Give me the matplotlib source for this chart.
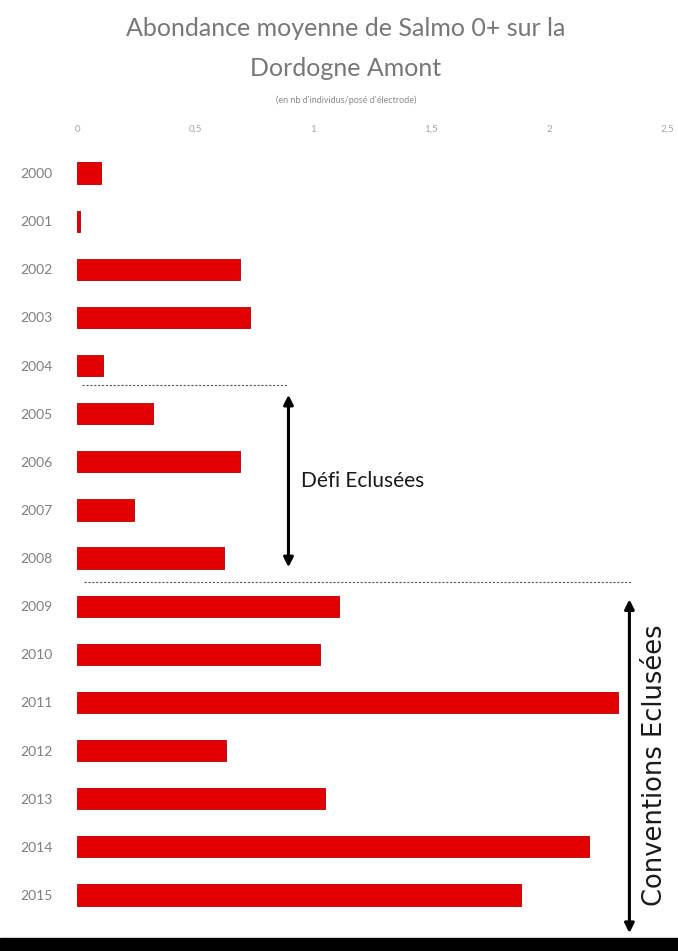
import matplotlib.pyplot as plt
from matplotlib.patches import Rectangle

# Mean abundance of Salmo 0+ per year (nb of individuals / electrode pass)
years = ['2000', '2001', '2002', '2003', '2004', '2005', '2006', '2007',
         '2008', '2009', '2010', '2011', '2012', '2013', '2014', '2015']
abundance = [0.10, 0.01, 0.69, 0.73, 0.11, 0.32, 0.69, 0.24,
             0.62, 1.11, 1.03, 2.29, 0.63, 1.05, 2.17, 1.88]
xticks = [0, 0.5, 1, 1.5, 2, 2.5]
xtick_labels = ['0', '0,5', '1', '1,5', '2', '2,5']

plt.rcParams['font.family'] = ['Lato', 'DejaVu Sans']

fig = plt.figure(figsize=(6.78, 9.51), dpi=100)
ax = fig.add_axes([0.114, 0.0326, 0.870, 0.8118])

pos = list(range(len(years)))
ax.barh(pos, abundance, height=0.44, color='#e20000', edgecolor='#b00000', linewidth=0.6)

ax.set_xlim(0, 2.5)
ax.set_ylim(len(years) - 0.48, -0.52)
ax.set_yticks(pos)
ax.set_yticklabels(years, fontsize=10, color='#808080')
ax.xaxis.tick_top()
ax.set_xticks(xticks)
ax.set_xticklabels(xtick_labels, fontsize=7, color='#a6a6a6')
ax.tick_params(length=0, axis='y', pad=18)
ax.tick_params(length=0, axis='x', pad=10)
for s in ax.spines.values():
    s.set_visible(False)

# period separators
ax.plot([0.02, 0.89], [4.4, 4.4], ls=(0, (2, 1.5)), color='#555555', lw=0.8)
ax.plot([0.03, 2.35], [8.5, 8.5], ls=(0, (2, 1.5)), color='#555555', lw=0.8)

# period arrows
ax.annotate('', xy=(0.895, 4.55), xytext=(0.895, 8.25),
            arrowprops=dict(arrowstyle='<|-|>', color='black', lw=2.2, mutation_scale=14))
ax.text(0.95, 6.4, 'Défi Eclusées', fontsize=15, color='#1a1a1a', va='center', ha='left')
ax.annotate('', xy=(2.34, 8.8), xytext=(2.34, 15.85), annotation_clip=False,
            arrowprops=dict(arrowstyle='<|-|>', color='black', lw=2.2, mutation_scale=14))
ax.text(2.45, 12.3, 'Conventions Eclusées', fontsize=18.5, color='#1a1a1a',
        rotation=90, va='center', ha='center', fontfamily='DejaVu Sans')

fig.text(0.51, 0.970, 'Abondance moyenne de Salmo 0+ sur la', ha='center', va='center',
         fontsize=18, color='#777777')
fig.text(0.51, 0.928, 'Dordogne Amont', ha='center', va='center',
         fontsize=18, color='#777777')
fig.text(0.51, 0.895, "(en nb d'individus/posé d'électrode)", ha='center', va='center',
         fontsize=6.5, color='#8c8c8c')

fig.add_artist(Rectangle((0, 0), 1, 0.014, transform=fig.transFigure, color='black'))

fig.savefig('out.png', dpi=100)
